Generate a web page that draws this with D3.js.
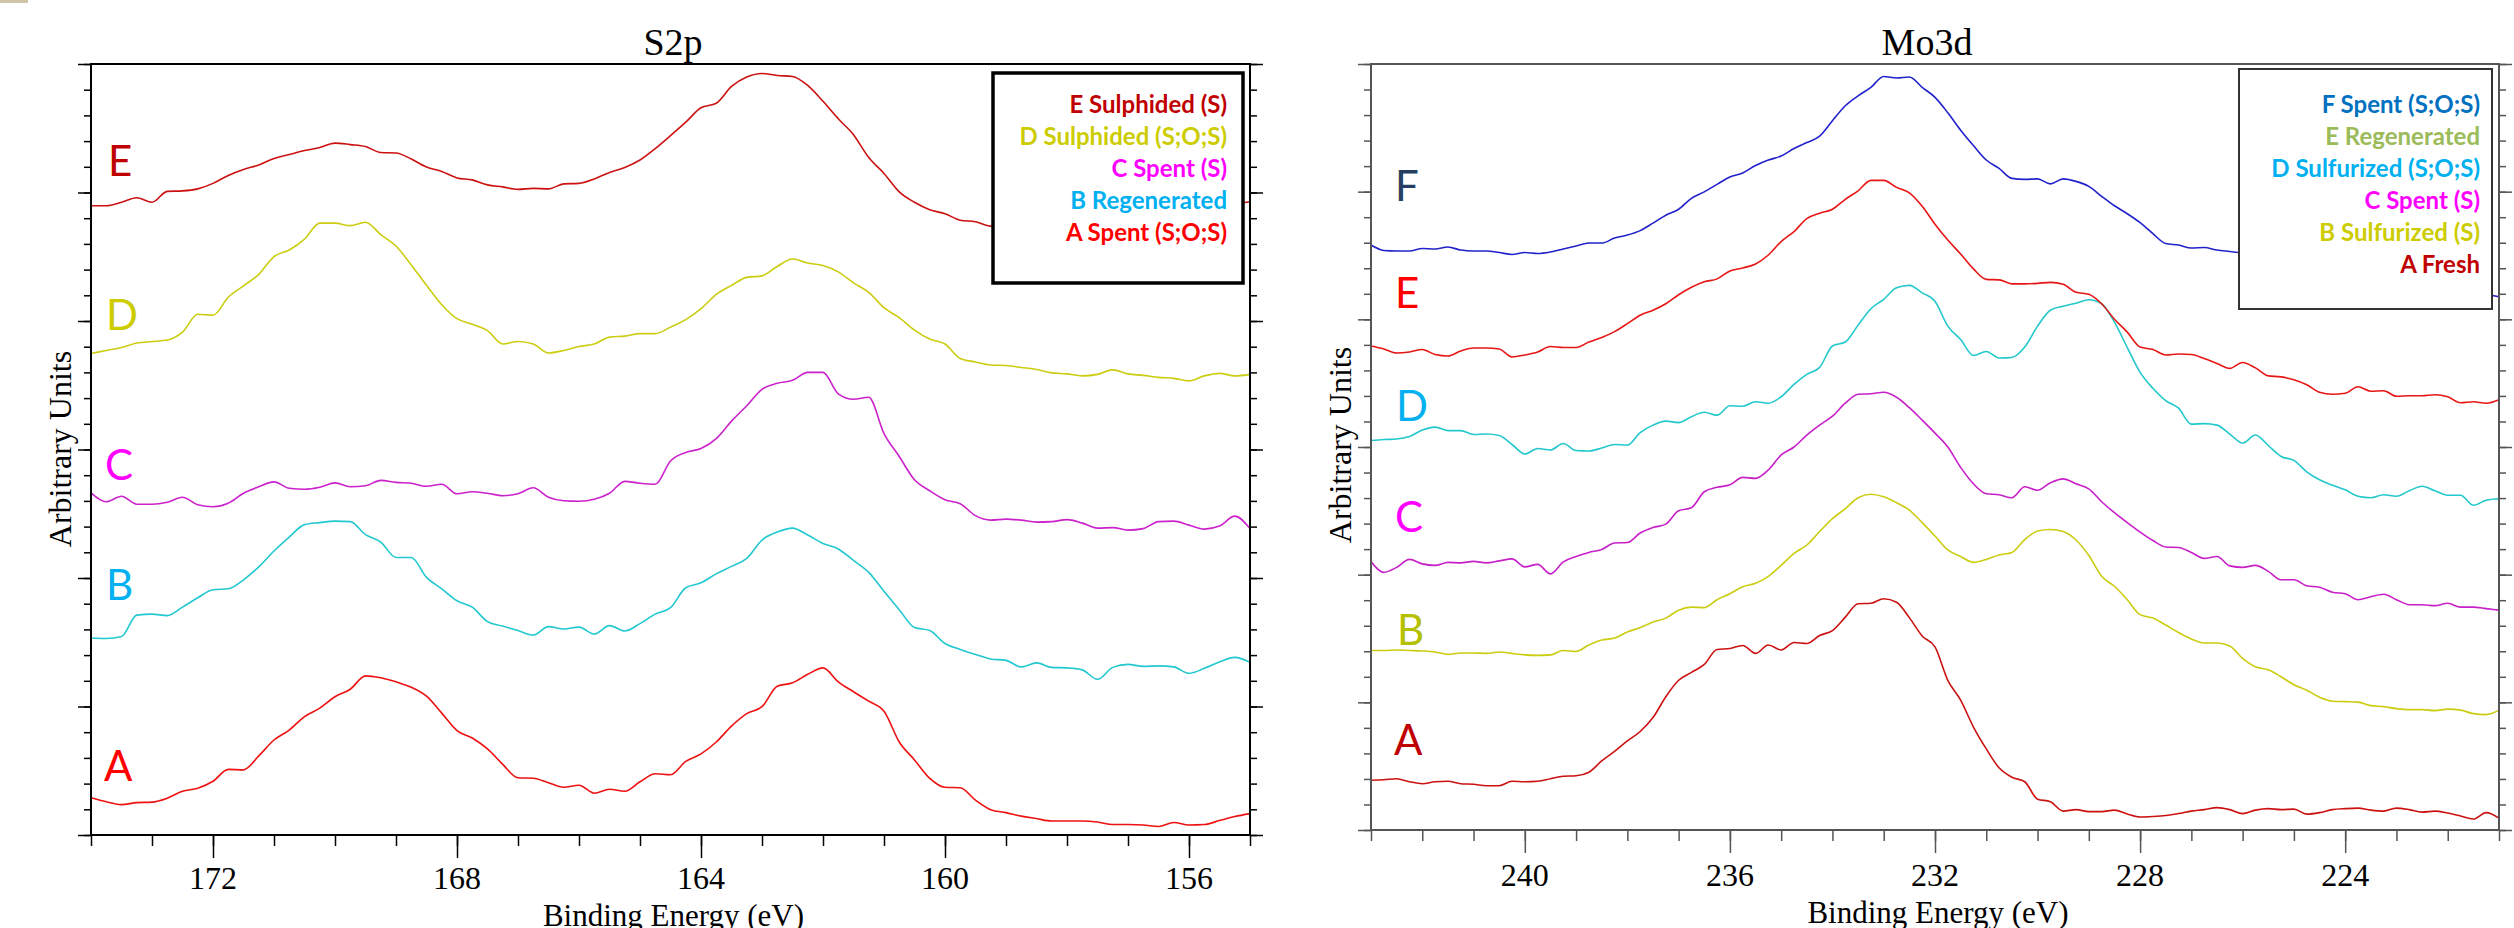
<!DOCTYPE html>
<html>
<head>
<meta charset="utf-8">
<script src="https://cdnjs.cloudflare.com/ajax/libs/d3/7.8.5/d3.min.js"></script>
<style>
  body { margin: 0; background: #fff; }
  svg { display: block; }
</style>
</head>
<body>
<script>
// ---- S2p panel data (binding energy in eV, intensity in arbitrary units) ----
const s2pEnergy = [174, 173.75, 173.5, 173.25, 173, 172.75, 172.5, 172.25, 172, 171.75, 171.5, 171.25, 171, 170.75, 170.5, 170.25,
  170, 169.75, 169.5, 169.25, 169, 168.75, 168.5, 168.25, 168, 167.75, 167.5, 167.25, 167, 166.75, 166.5, 166.25,
  166, 165.75, 165.5, 165.25, 165, 164.75, 164.5, 164.25, 164, 163.75, 163.5, 163.25, 163, 162.75, 162.5, 162.25,
  162, 161.75, 161.5, 161.25, 161, 160.75, 160.5, 160.25, 160, 159.75, 159.5, 159.25, 159, 158.75, 158.5, 158.25,
  158, 157.75, 157.5, 157.25, 157, 156.75, 156.5, 156.25, 156, 155.75, 155.5, 155.25, 155];

const s2pA = [75, 67, 61, 65, 66, 74, 88, 94, 108, 132, 131, 159, 191, 211, 238, 255, 278, 293, 320, 316,
  308, 297, 279, 245, 210, 195, 173, 142, 115, 114, 105, 96, 100, 84, 92, 88, 107, 123, 121,
  148, 163, 187, 219, 244, 258, 299, 306, 323, 336, 308, 288, 269, 249, 187, 151, 114, 96, 95, 70,
  51, 45, 38, 33, 28, 28, 28, 26, 21, 21, 20, 17, 25, 20, 21, 29, 37, 43];
const s2pB = [396, 395, 399, 442, 444, 441, 458, 477, 493, 495, 513, 539, 571, 599, 624, 628, 631, 630, 604, 589,
  558, 558, 518, 495, 471, 458, 429, 420, 411, 402, 419, 414, 418, 404, 421, 410, 425, 444, 457,
  497, 507, 525, 540, 556, 593, 609, 617, 603, 586, 575, 552, 528, 490, 453, 417, 411, 385, 373, 363,
  354, 351, 338, 346, 337, 336, 332, 313, 337, 343, 339, 340, 338, 325, 335, 348, 357, 347];
const s2pC = [688, 670, 681, 665, 665, 669, 679, 664, 660, 667, 687, 700, 710, 697, 695, 699, 708, 700, 702, 713,
  709, 707, 701, 705, 686, 690, 687, 682, 686, 698, 679, 672, 671, 675, 687, 711, 707, 705, 752,
  769, 777, 797, 832, 863, 896, 908, 914, 930, 930, 887, 876, 880, 807, 761, 714, 692, 674, 666, 642,
  633, 635, 633, 629, 630, 634, 627, 617, 618, 613, 616, 630, 631, 623, 615, 621, 641, 616];
const s2pD = [968, 974, 980, 989, 992, 995, 1011, 1047, 1045, 1081, 1104, 1127, 1163, 1176, 1198, 1230, 1230, 1225, 1232, 1207,
  1184, 1146, 1105, 1066, 1038, 1027, 1014, 987, 992, 987, 969, 974, 982, 987, 1001, 1003, 1008, 1008, 1021,
  1036, 1058, 1087, 1105, 1121, 1124, 1143, 1158, 1150, 1145, 1132, 1110, 1091, 1060, 1040, 1015, 997, 987, 958, 951,
  945, 944, 940, 936, 929, 927, 923, 926, 935, 927, 924, 920, 918, 913, 923, 928, 923, 926];
// null = hidden behind the legend box
const s2pE = [1265, 1265, 1272, 1281, 1272, 1294, 1295, 1299, 1310, 1326, 1338, 1347, 1360, 1368, 1376, 1382, 1391, 1388, 1384, 1372,
  1371, 1359, 1343, 1334, 1321, 1317, 1307, 1303, 1298, 1300, 1299, 1309, 1310, 1319, 1332, 1342, 1357, 1380, 1406,
  1433, 1462, 1471, 1505, 1524, 1531, 1527, 1525, 1507, 1475, 1440, 1408, 1362, 1330, 1293, 1272, 1257, 1249, 1236, 1233,
  1224, null, null, null, null, null, null, null, null, null, null, null, null, null, null, null, null, 1273];

const s2pLetters = ['A', 'B', 'C', 'D', 'E'];
const s2pLegend = ['E Sulphided (S)', 'D Sulphided (S;O;S)', 'C Spent (S)', 'B Regenerated', 'A Spent (S;O;S)'];
const s2pMajorTicks = [172, 168, 164, 160, 156];

// ---- Mo3d panel data ----
const mo3dEnergy = [243, 242.75, 242.5, 242.25, 242, 241.75, 241.5, 241.25, 241, 240.75, 240.5, 240.25, 240, 239.75, 239.5, 239.25,
  239, 238.75, 238.5, 238.25, 238, 237.75, 237.5, 237.25, 237, 236.75, 236.5, 236.25, 236, 235.75, 235.5, 235.25,
  235, 234.75, 234.5, 234.25, 234, 233.75, 233.5, 233.25, 233, 232.75, 232.5, 232.25, 232, 231.75, 231.5, 231.25,
  231, 230.75, 230.5, 230.25, 230, 229.75, 229.5, 229.25, 229, 228.75, 228.5, 228.25, 228, 227.75, 227.5, 227.25,
  227, 226.75, 226.5, 226.25, 226, 225.75, 225.5, 225.25, 225, 224.75, 224.5, 224.25, 224, 223.75, 223.5, 223.25,
  223, 222.75, 222.5, 222.25, 222, 221.75, 221.5, 221.25, 221];

const mo3dA = [100, 101, 103, 97, 93, 97, 98, 93, 92, 89, 89, 98, 97, 98, 103, 108, 109, 116, 139, 158,
  179, 198, 226, 268, 301, 317, 333, 363, 365, 371, 355, 372, 362, 377, 375, 391, 401, 428, 455, 456,
  465, 458, 427, 390,
  368, 301, 261, 207, 163, 125, 106, 97, 62, 57, 38, 41, 37, 37, 40, 32, 26, 27, 29, 33,
  38, 41, 45, 41, 33, 40, 43, 41, 42, 32, 35, 41, 43, 44, 40, 38, 44, 41, 36, 38, 34, 28, 22, 35, 24];
const mo3dB = [361, 361, 362, 361, 360, 358, 353, 356, 356, 355, 358, 355, 352, 351, 352, 361, 359, 372, 382, 386,
  398, 407, 418, 426, 442, 448, 447, 463, 475, 489, 496, 510, 532, 556, 573, 600, 626, 646, 668, 675,
  670, 658, 643, 618,
  591, 563, 550, 538, 544, 553, 558, 584, 601, 604, 600, 583, 552, 510, 490, 463, 433, 426, 412, 397,
  384, 376, 376, 370, 345, 328, 322, 308, 292, 281, 267, 259, 258, 257, 250, 248, 244, 242, 242, 240, 243, 241, 234, 232, 241];
const mo3dC = [540, 518, 528, 544, 535, 532, 538, 537, 540, 537, 541, 545, 529, 534, 515, 539, 550, 558, 564, 577,
  578, 597, 608, 615, 642, 648, 680, 689, 694, 709, 707, 724, 754, 770, 794, 814, 832, 858, 876, 877,
  880, 870, 849, 824,
  798, 770, 729, 696, 676, 674, 668, 690, 683, 698, 706, 696, 686, 660, 638, 618, 599, 582, 569, 568,
  558, 546, 550, 531, 528, 532, 520, 503, 503, 491, 488, 478, 475, 463, 469, 474, 463, 453, 453, 451, 456, 448, 448, 445, 442];
const mo3dD = [783, 785, 786, 791, 804, 810, 803, 803, 795, 796, 793, 775, 756, 767, 764, 777, 763, 762, 768, 775,
  774, 799, 814, 822, 819, 831, 840, 834, 853, 852, 861, 858, 871, 896, 916, 930, 973, 981, 1015, 1048,
  1067, 1090, 1095, 1080,
  1063, 1013, 986, 954, 962, 949, 950, 971, 1013, 1045, 1053, 1059, 1066, 1058, 1021, 970, 920, 888, 863, 848,
  816, 817, 814, 796, 778, 794, 773, 751, 743, 720, 704, 693, 684, 671, 668, 674, 671, 682, 691, 682, 673, 673, 653, 663, 666];
const mo3dE = [973, 967, 959, 961, 966, 956, 953, 963, 969, 969, 967, 951, 955, 961, 972, 970, 970, 981, 990, 1002,
  1018, 1035, 1045, 1058, 1076, 1091, 1102, 1108, 1124, 1130, 1138, 1156, 1183, 1203, 1229, 1240, 1248, 1268, 1285, 1306,
  1306, 1292, 1281, 1254,
  1218, 1186, 1158, 1128, 1107, 1106, 1098, 1098, 1099, 1101, 1097, 1081, 1077, 1058, 1027, 1001, 971, 966, 955, 957,
  956, 948, 938, 928, 940, 929, 913, 911, 905, 895, 880, 876, 878, 891, 882, 883, 872, 873, 873, 875, 871, 859, 861, 858, 865];
const mo3dF = [1176, 1165, 1164, 1164, 1169, 1168, 1172, 1166, 1164, 1164, 1161, 1157, 1161, 1159, 1162, 1168, 1174, 1180, 1180, 1190,
  1196, 1205, 1220, 1236, 1248, 1270, 1283, 1298, 1313, 1321, 1336, 1347, 1355, 1370, 1382, 1395, 1426, 1456, 1476, 1493,
  1515, 1512, 1514, 1493,
  1473, 1442, 1407, 1376, 1347, 1330, 1310, 1308, 1309, 1299, 1309, 1304, 1294, 1274, 1255, 1239, 1221, 1199, 1179, 1176,
  1170, 1171, 1166, 1163, null, null, null, null, null, null, null, null, null, null, null, null, null, null, null, null,
  null, null, null, null, 1072];

const mo3dLetters = ['A', 'B', 'C', 'D', 'E', 'F'];
const mo3dLegend = ['F Spent (S;O;S)', 'E Regenerated', 'D Sulfurized (S;O;S)', 'C Spent (S)', 'B Sulfurized (S)', 'A Fresh'];
const mo3dMajorTicks = [240, 236, 232, 228, 224];

// ---- layout / styles ----
const W = 2514, H = 928;
const serif = '"Liberation Serif", "Times New Roman", serif';
const sans = 'Lato, "Open Sans", sans-serif';

const panels = [
  {
    title: 'S2p', energy: s2pEnergy, series: [s2pA, s2pB, s2pC, s2pD, s2pE], letters: s2pLetters,
    domain: [174, 155], yMax: 1550, majors: s2pMajorTicks,
    left: 91, right: 1250, top: 64, bottom: 835, frame: '#000',
    lineColors: ['#ee1111', '#22c8d0', '#cc22cc', '#cccc11', '#cc1111'],
    letterColors: ['#ff0000', '#00b0f0', '#ff00ff', '#cccc00', '#c00000'],
    letterPos: [[104, 781], [106, 600], [105, 480], [106, 330], [108, 176]],
    legend: s2pLegend, legendColors: ['#c00000', '#cccc00', '#ff00ff', '#00b0f0', '#ff0000'],
    box: [993, 73, 250, 210], boxStroke: '#000', boxWidth: 3.5, legendRight: 1227, legendY: 113,
    titleX: 673, labelX: 71, labelY: 449, tickLabelY: 889, xTitleY: 926
  },
  {
    title: 'Mo3d', energy: mo3dEnergy, series: [mo3dA, mo3dB, mo3dC, mo3dD, mo3dE, mo3dF], letters: mo3dLetters,
    domain: [243, 221], yMax: 1540, majors: mo3dMajorTicks,
    left: 1371, right: 2499, top: 64, bottom: 830, frame: '#555',
    lineColors: ['#cc1111', '#cccc11', '#c820c8', '#22c8cc', '#e81515', '#2222cc'],
    letterColors: ['#c00000', '#b4c000', '#ff00ff', '#00b0f0', '#ff0000', '#243f60'],
    letterPos: [[1394, 755], [1397, 645], [1395, 532], [1396, 421], [1395, 308], [1395, 201]],
    legend: mo3dLegend, legendColors: ['#0070c0', '#9bbb59', '#00b0f0', '#ff00ff', '#cccc00', '#c00000'],
    box: [2239, 69, 253, 240], boxStroke: '#333', boxWidth: 2, legendRight: 2480, legendY: 113,
    titleX: 1927, labelX: 1351, labelY: 445, tickLabelY: 886, xTitleY: 923
  }
];

const svg = d3.select('body').append('svg')
  .attr('width', W)
  .attr('height', H);

svg.append('rect').attr('x', 0).attr('y', 0).attr('width', 28).attr('height', 3).attr('fill', '#cfc6a8');

panels.forEach((p) => {
  let x = d3.scaleLinear().domain(p.domain).range([p.left, p.right]);
  let y = d3.scaleLinear().domain([0, p.yMax]).range([p.bottom, p.top]);

  let g = svg.append('g');

  // curves
  let line = d3.line()
    .x((d) => x(d.e))
    .y((d) => y(d.v))
    .curve(d3.curveMonotoneX);

  p.series.forEach((vals, i) => {
    let pts = p.energy.map((e, j) => ({ e: e, v: vals[j] })).filter((d) => d.v != null);
    g.append('path')
      .attr('d', line(pts))
      .attr('fill', 'none')
      .attr('stroke', p.lineColors[i])
      .attr('stroke-width', 1.6);
  });

  // frame
  g.append('rect')
    .attr('x', p.left).attr('y', p.top)
    .attr('width', p.right - p.left).attr('height', p.bottom - p.top)
    .attr('fill', 'none').attr('stroke', p.frame).attr('stroke-width', 2);

  // y ticks, 30 divisions with a long tick every 5
  let yTicks = d3.range(0, 31).map((i) => i * p.yMax / 30);
  let yMajor = yTicks.filter((t, i) => i % 5 === 0);
  [[d3.axisLeft, p.left], [d3.axisRight, p.right]].forEach(([ax, pos]) => {
    [[yTicks, 7], [yMajor, 13]].forEach(([vals, size]) => {
      let a = g.append('g')
        .attr('transform', 'translate(' + pos + ',0)')
        .call(ax(y).tickValues(vals).tickSize(size).tickFormat(''));
      a.select('.domain').remove();
      a.selectAll('line').attr('stroke', p.frame).attr('stroke-width', 1.5);
    });
  });

  // x ticks every 1 eV, long ticks with labels every 4 eV
  let xTicks = d3.range(Math.ceil(p.domain[1]), p.domain[0] + 1);
  [[xTicks, 11], [p.majors, 23]].forEach(([vals, size]) => {
    let a = g.append('g')
      .attr('transform', 'translate(0,' + p.bottom + ')')
      .call(d3.axisBottom(x).tickValues(vals).tickSize(size).tickFormat(''));
    a.select('.domain').remove();
    a.selectAll('line').attr('stroke', p.frame).attr('stroke-width', 1.5);
  });

  g.selectAll('text.tick-label')
    .data(p.majors)
    .enter()
    .append('text')
    .attr('class', 'tick-label')
    .attr('x', (d) => x(d))
    .attr('y', p.tickLabelY)
    .attr('text-anchor', 'middle')
    .attr('font-family', serif)
    .attr('font-size', 32)
    .text((d) => d);

  // titles
  g.append('text')
    .attr('x', p.titleX).attr('y', 55)
    .attr('text-anchor', 'middle')
    .attr('font-family', serif).attr('font-size', 38)
    .text(p.title);

  g.append('text')
    .attr('x', (p.left + p.right) / 2 + 3).attr('y', p.xTitleY)
    .attr('text-anchor', 'middle')
    .attr('font-family', serif).attr('font-size', 31)
    .text('Binding Energy (eV)');

  g.append('text')
    .attr('transform', 'translate(' + p.labelX + ',' + p.labelY + ') rotate(-90)')
    .attr('text-anchor', 'middle')
    .attr('font-family', serif).attr('font-size', 32)
    .text('Arbitrary Units');

  // curve letters
  p.letters.forEach((l, i) => {
    g.append('text')
      .attr('x', p.letterPos[i][0]).attr('y', p.letterPos[i][1])
      .attr('font-family', sans).attr('font-size', 42)
      .attr('fill', p.letterColors[i])
      .text(l);
  });

  // legend box
  g.append('rect')
    .attr('x', p.box[0]).attr('y', p.box[1])
    .attr('width', p.box[2]).attr('height', p.box[3])
    .attr('fill', '#fff').attr('stroke', p.boxStroke).attr('stroke-width', p.boxWidth);

  g.selectAll('text.legend')
    .data(p.legend)
    .enter()
    .append('text')
    .attr('class', 'legend')
    .attr('x', p.legendRight)
    .attr('y', (d, i) => p.legendY + i * 32)
    .attr('text-anchor', 'end')
    .attr('font-family', sans).attr('font-weight', 'bold').attr('font-size', 24)
    .attr('fill', (d, i) => p.legendColors[i])
    .text((d) => d);
});
</script>
</body>
</html>
